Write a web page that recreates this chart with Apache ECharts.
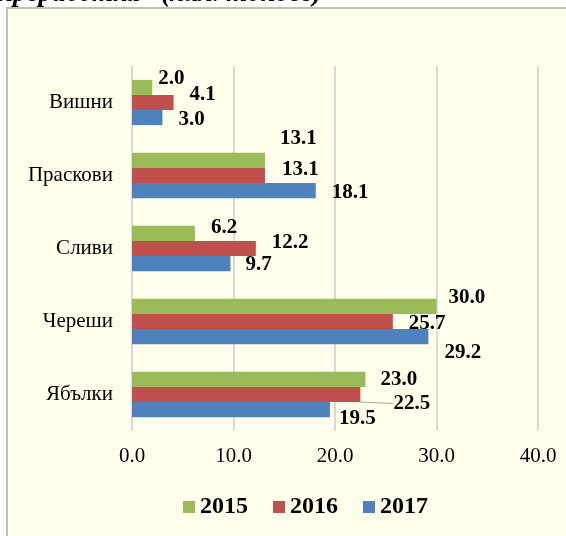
<!DOCTYPE html>
<html>
<head>
<meta charset="utf-8">
<script src="https://cdn.jsdelivr.net/npm/echarts@6/dist/echarts.min.js"></script>
<style>
  html, body { margin: 0; padding: 0; background: #fff; }
  #wrap { position: relative; width: 566px; height: 536px; overflow: hidden; }
  #box { position: absolute; left: 6px; top: 7px; width: 600px; height: 600px;
         background: #FFFFEB; border-left: 2px solid #BFBFBF; border-top: 2px solid #BFBFBF; }
  #chart { position: absolute; left: 0; top: 0; width: 566px; height: 536px; }
</style>
</head>
<body>
<div id="wrap">
  <div id="box"></div>
  <div id="chart"></div>
</div>
<script>
// категории отгоре надолу
const categories = ['Вишни', 'Праскови', 'Сливи', 'Череши', 'Ябълки']
const years = ['2015', '2016', '2017']
const values2015 = [2.0, 13.1, 6.2, 30.0, 23.0]
const values2016 = [4.1, 13.1, 12.2, 25.7, 22.5]
const values2017 = [3.0, 18.1, 9.7, 29.2, 19.5]
const xTicks = [0, 10, 20, 30, 40]

const colors = ['#9BBB59', '#C0504D', '#4F81BD']
const font = '"Times New Roman", "Liberation Serif", serif'

// ръчно преместени етикети (както в Excel)
const labelShift = [
  [[1, -9], [10, -22], [11, -6], [7, -9], [10, 0]],
  [[11, -8], [12, -6], [11, -6], [11, 2], [28, 9]],
  [[11, 2], [11, 2], [10, 1], [11, 16], [4, 9]]
]

const chart = echarts.init(document.getElementById('chart'))

const makeSeries = (name, vals, i) => ({
  name: name,
  type: 'bar',
  barGap: '0%',
  barCategoryGap: '38%',
  itemStyle: { color: colors[i] },
  label: {
    show: true,
    position: 'right',
    distance: 5,
    color: '#000',
    fontFamily: font,
    fontWeight: 'bold',
    fontSize: 21,
    formatter: p => p.value.toFixed(1)
  },
  labelLine: { show: false },
  labelLayout: p => ({ dx: labelShift[i][p.dataIndex][0], dy: labelShift[i][p.dataIndex][1] }),
  data: vals.map((v, k) => (i === 1 && k === 4)
    ? { value: v, labelLine: { show: true, lineStyle: { color: '#A6A6A6', width: 1 } } }
    : v)
})

chart.setOption({
  animation: false,
  backgroundColor: 'transparent',
  graphic: [{
    type: 'text',
    left: -2,
    top: -19,
    style: {
      text: 'преработка" (хил. тонове)',
      font: 'italic bold 27px ' + font,
      fill: '#000'
    }
  }],
  grid: { left: 132, right: 28, top: 66, bottom: 105 },
  legend: {
    data: years,
    left: 183,
    top: 495,
    padding: 0,
    icon: 'rect',
    itemWidth: 12,
    itemHeight: 12,
    itemGap: 25,
    textStyle: { fontFamily: font, fontWeight: 'bold', fontSize: 24, color: '#000' }
  },
  xAxis: {
    type: 'value',
    min: xTicks[0],
    max: xTicks[xTicks.length - 1],
    interval: 10,
    axisLine: { show: false },
    axisTick: { show: false },
    axisLabel: {
      margin: 15,
      fontFamily: font,
      fontSize: 21,
      color: '#000',
      formatter: v => v.toFixed(1)
    },
    splitLine: { lineStyle: { color: '#D9D9D9', width: 2 } }
  },
  yAxis: {
    type: 'category',
    inverse: true,
    data: categories,
    axisLine: { show: false },
    axisTick: { show: false },
    axisLabel: { margin: 19, fontFamily: font, fontSize: 21, color: '#000' }
  },
  series: [
    makeSeries(years[0], values2015, 0),
    makeSeries(years[1], values2016, 1),
    makeSeries(years[2], values2017, 2)
  ]
})
</script>
</body>
</html>
